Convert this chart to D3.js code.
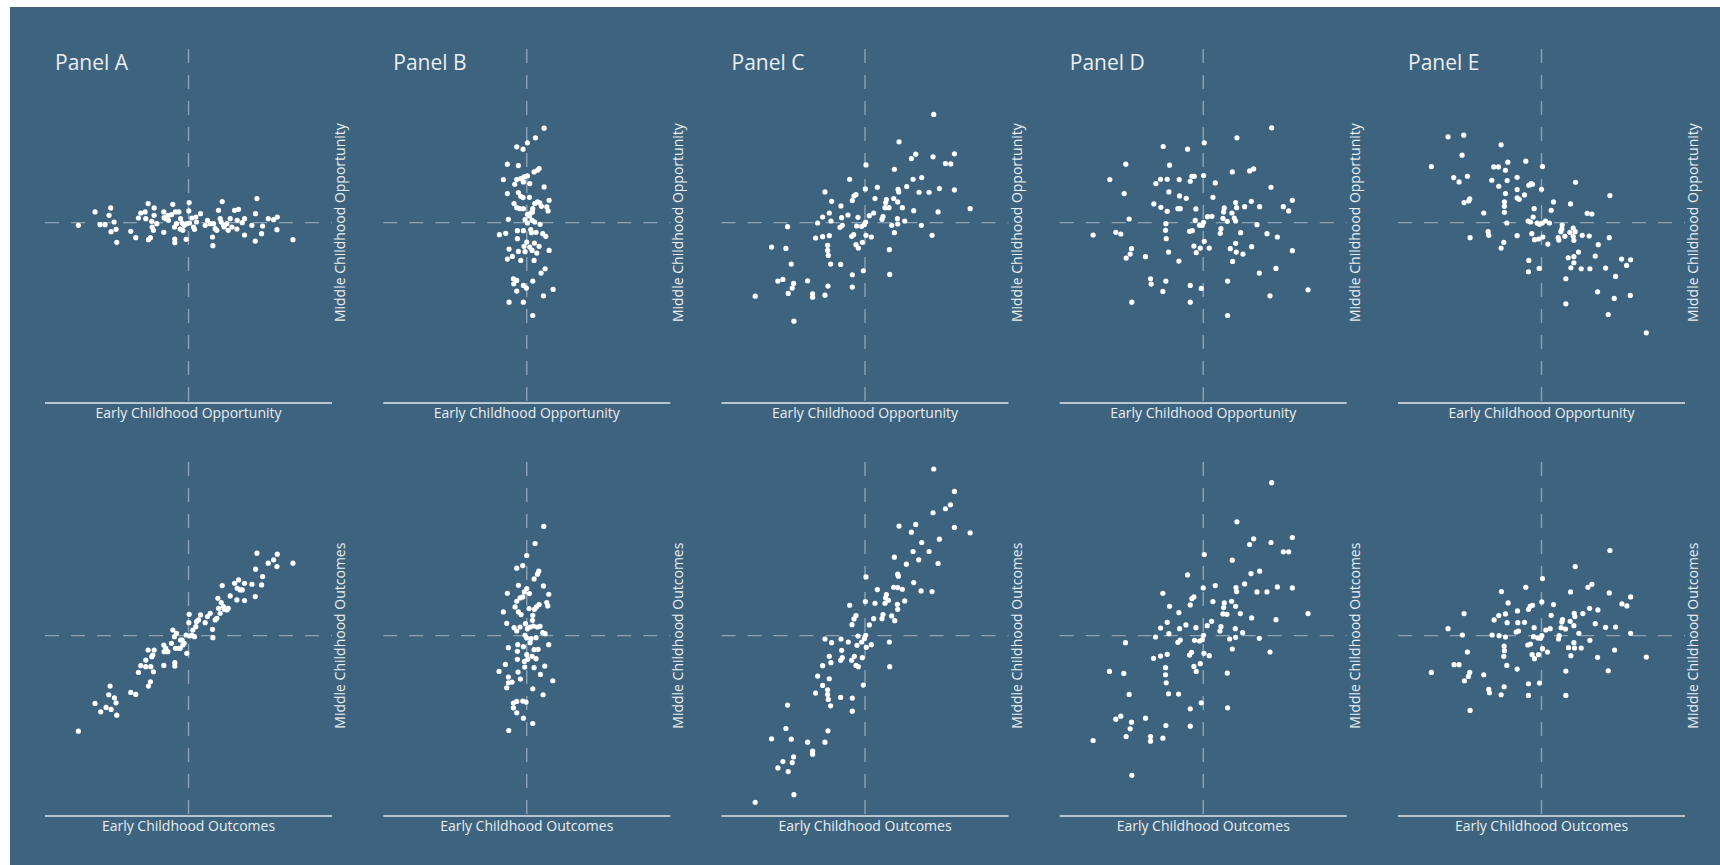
<!DOCTYPE html>
<html>
<head>
<meta charset="utf-8">
<script src="https://cdn.jsdelivr.net/npm/d3@7"></script>
<style>
  html, body { margin: 0; padding: 0; background: #fff; }
  svg { display: block; }
</style>
</head>
<body>
<div id="chart"></div>
<script>
// Early (x) vs middle (y) childhood scores.
// Units are arbitrary (no tick labels in the original); 0 = where the dashed lines cross.
const panelNames = ['Panel A', 'Panel B', 'Panel C', 'Panel D', 'Panel E'];
const rowLabels = [
  { x: 'Early Childhood Opportunity', y: 'Middle Childhood Opportunity' },
  { x: 'Early Childhood Outcomes', y: 'Middle Childhood Outcomes' }
];

const aOpportunity = [
  [-33.0,-0.8],[-28.0,3.2],[-26.5,-0.6],[-25.0,-0.6],[-23.8,2.2],[-23.3,4.4],[-22.3,0.2],[-21.7,-2.0],
  [-23.2,-2.7],[-21.5,-5.9],[-17.3,-2.6],[-15.8,-4.5],[-15.0,1.4],[-14.3,2.9],[-13.0,3.2],[-12.1,5.7],
  [-12.0,-5.1],[-11.4,-4.5],[-12.8,1.2],[-11.0,0.4],[-10.3,4.4],[-10.3,2.2],[-10.9,-1.3],[-10.5,-2.3],
  [-7.4,3.2],[-7.3,1.5],[-7.4,-2.9],[-6.8,1.2],[-6.2,2.1],[-4.7,5.5],[-5.1,2.4],[-3.9,3.2],[-2.9,3.2],
  [-3.6,-0.3],[-4.2,-1.3],[-4.1,-4.9],[-4.1,-6.0],[-2.4,1.2],[-1.9,-0.1],[-2.5,-1.9],[-1.7,-2.3],
  [-1.3,-0.8],[-0.5,-0.3],[-0.7,-5.0],[0.2,6.0],[0.1,3.5],[0.3,-0.1],[1.0,1.4],[1.8,-2.0],[2.2,1.7],
  [2.4,0.2],[3.6,2.7],[5.0,-0.8],[5.7,0.7],[6.5,-0.3],[7.2,-4.3],[7.3,-6.9],[8.0,-1.8],[8.5,-2.3],
  [9.0,3.7],[9.5,1.2],[9.8,0.2],[10.1,6.3],[10.5,-0.8],[10.7,-1.3],[11.5,-0.3],[11.9,-2.3],[12.5,1.2],
  [13.8,3.7],[15.0,4.0],[14.6,0.7],[14.5,-1.9],[16.1,0.0],[16.8,1.2],[16.8,-3.7],[19.0,-0.8],[20.1,2.7],
  [20.5,7.2],[21.9,-3.3],[22.2,-1.0],[20.0,-5.5],[23.9,1.2],[25.5,0.9],[26.6,1.7],[26.5,-2.1],[31.3,-5.1],
  [-9.5,-0.3],[-6.0,0.7],[1.5,-1.3],[7.5,-0.3],[13.0,-1.3]
];

const aOutcomes = [
  [-33.0,-28.6],[-23.5,-15.1],[-23.9,-17.7],[-22.2,-18.6],[-21.7,-20.1],[-23.2,-22.1],[-24.7,-21.5],
  [-26.3,-22.8],[-28.0,-20.3],[-21.5,-23.8],[-17.3,-17.0],[-15.8,-17.6],[-15.0,-11.0],[-14.3,-9.0],
  [-12.8,-7.3],[-12.1,-4.3],[-12.0,-15.1],[-11.4,-13.8],[-12.8,-9.3],[-11.3,-9.3],[-11.0,-6.3],
  [-10.5,-10.8],[-10.3,-4.3],[-10.7,-5.8],[-7.4,-2.8],[-7.3,-4.8],[-7.4,-8.9],[-6.8,-3.8],[-6.2,-4.8],
  [-4.7,1.7],[-5.1,-2.3],[-3.9,-3.8],[-2.9,-3.8],[-3.6,0.7],[-4.2,-0.3],[-4.1,-8.1],[-4.1,-9.1],
  [-2.4,-1.3],[-1.9,-1.3],[-2.5,-3.8],[-1.7,-2.8],[-1.3,-2.3],[-0.5,-5.3],[-0.7,0.2],[0.2,6.4],
  [0.1,3.9],[0.3,-0.1],[1.0,0.2],[1.8,-0.3],[2.2,2.7],[2.4,4.2],[1.3,1.7],[3.0,4.7],[3.6,6.2],
  [5.0,3.9],[5.7,5.7],[6.5,6.7],[7.2,1.9],[7.3,-0.6],[8.0,4.7],[8.5,5.2],[9.0,8.2],[9.5,6.7],[9.8,9.9],
  [10.1,15.0],[8.8,11.2],[10.5,8.7],[10.7,7.9],[11.5,7.7],[11.9,8.2],[12.5,11.9],[13.8,15.7],[15.0,16.7],
  [14.6,14.2],[14.5,10.7],[16.1,13.7],[16.8,15.7],[16.8,10.5],[15.5,13.7],[19.0,15.4],[20.1,19.9],
  [20.5,24.7],[21.9,15.2],[22.2,17.7],[20.0,11.7],[23.9,21.7],[25.5,22.7],[26.6,24.4],[26.5,20.7],[31.3,21.7]
];

const bOpportunity = [
  [5.2,28.3],[2.6,25.4],[0.2,23.9],[-1.1,22.0],[-3.0,22.7],[-5.8,17.5],[-2.5,17.1],[3.7,16.2],[3.2,15.7],
  [2.2,15.2],[-7.0,12.9],[-3.0,12.9],[-1.8,13.2],[-0.8,13.7],[0.2,14.0],[-1.0,12.2],[0.9,11.7],[-3.6,11.5],
  [5.2,10.7],[-5.8,8.7],[-2.5,9.0],[-1.8,7.9],[-1.1,7.5],[0.8,7.6],[-3.8,5.7],[-3.0,4.5],[-2.1,4.2],
  [-1.0,4.2],[0.2,2.5],[1.2,2.9],[1.8,4.2],[2.4,5.7],[3.2,6.2],[3.9,5.9],[4.4,4.9],[6.0,4.7],[6.7,6.7],
  [6.4,3.5],[1.7,3.2],[-5.5,1.0],[-0.5,0.9],[0.8,2.0],[1.6,0.7],[2.4,0.2],[0.2,-0.1],[4.0,-0.5],
  [-8.2,-3.6],[-6.3,-3.2],[-2.8,-2.4],[-1.0,-2.4],[1.2,-2.1],[1.4,-3.0],[2.8,-2.9],[4.8,-3.3],[5.7,-4.1],
  [-2.8,-4.8],[0.0,-5.8],[2.3,-6.1],[3.7,-7.1],[0.9,-7.3],[-0.8,-7.1],[1.6,-8.3],[3.0,-9.1],[-0.5,-8.7],
  [-2.5,-8.6],[-5.3,-7.9],[-4.3,-10.1],[-5.8,-10.9],[-1.8,-11.3],[2.2,-11.3],[6.7,-8.3],[5.5,-13.8],
  [4.3,-15.1],[-4.0,-16.8],[-3.0,-17.3],[-3.9,-18.3],[-1.0,-18.8],[-0.1,-19.6],[1.8,-17.5],[-3.0,-20.5],
  [7.9,-20.0],[5.0,-21.9],[-5.3,-23.8],[-1.0,-23.8],[1.8,-27.8]
];

const bOutcomes = [
  [5.1,32.7],[2.5,27.6],[0.0,24.0],[-1.2,21.0],[-3.0,20.2],[3.6,19.3],[3.2,18.4],[2.2,17.0],[-2.5,15.1],
  [5.0,14.9],[-5.8,12.7],[-0.7,13.1],[0.0,14.1],[0.8,12.6],[6.6,12.4],[-1.2,11.6],[-2.0,11.3],[-3.0,10.3],
  [-3.5,8.6],[-2.5,7.1],[-1.7,6.3],[0.7,8.1],[2.3,7.9],[2.9,8.6],[3.7,9.3],[6.0,9.9],[6.3,8.9],[-7.0,7.1],
  [-6.0,3.7],[1.8,6.1],[1.7,4.6],[-0.4,3.6],[-3.8,2.4],[-3.0,1.4],[-2.0,2.6],[0.2,2.1],[1.0,2.6],[2.0,2.9],
  [3.2,2.6],[4.0,2.8],[4.8,0.9],[5.5,0.6],[-0.5,0.1],[0.0,-0.7],[1.3,-0.9],[2.8,-0.6],[1.0,-2.1],
  [-5.5,-3.6],[-2.7,-2.7],[-1.0,-3.3],[6.6,-2.7],[2.2,-4.2],[3.4,-4.1],[-2.8,-4.7],[0.0,-5.7],[1.6,-6.2],
  [2.8,-6.9],[0.3,-7.1],[-0.7,-7.7],[-2.8,-7.1],[-6.4,-8.6],[-0.6,-9.4],[2.2,-9.6],[5.4,-9.1],[-8.3,-10.7],
  [-2.6,-10.9],[4.1,-11.6],[-5.5,-12.4],[-4.4,-13.9],[-5.5,-14.1],[-1.9,-13.0],[-6.0,-15.6],[7.8,-13.5],
  [1.8,-15.9],[4.9,-17.7],[-4.0,-20.2],[-3.0,-19.7],[-1.2,-19.6],[-0.2,-19.9],[-4.0,-21.6],[-3.0,-23.1],
  [-1.0,-24.7],[1.8,-26.3],[-5.4,-28.4]
];

const cOpportunity = [
  [20.6,32.4],[10.2,24.2],[13.9,19.2],[15.2,20.5],[20.4,19.7],[26.8,20.6],[24.1,17.7],[25.7,17.6],
  [0.3,17.3],[8.8,16.0],[-4.6,13.0],[14.4,13.0],[17.0,13.5],[-12.0,9.2],[-3.3,8.0],[-2.7,8.4],[0.1,10.1],
  [3.7,10.6],[9.9,10.0],[10.1,9.2],[12.5,10.8],[16.2,9.1],[19.2,9.1],[22.3,10.2],[26.8,9.8],[-10.0,6.4],
  [-3.8,6.6],[3.0,7.2],[6.4,6.9],[6.2,6.0],[8.6,7.2],[9.8,6.2],[6.0,4.5],[7.2,4.5],[11.2,4.5],[-7.2,5.0],
  [-10.7,2.9],[-12.7,1.7],[-14.2,-0.1],[-10.2,0.5],[-7.0,1.5],[-5.1,2.3],[-2.1,1.6],[1.3,2.1],[2.6,2.9],
  [5.4,1.8],[5.1,1.0],[9.7,1.2],[11.9,0.5],[14.6,3.6],[21.9,3.2],[31.5,4.2],[-23.2,-1.2],[-7.5,-1.4],
  [-6.8,-0.8],[-2.5,-1.0],[-1.0,-1.1],[-0.2,-0.6],[0.2,0.2],[8.0,-0.8],[9.8,-0.4],[16.9,-0.8],
  [-14.8,-4.6],[-12.7,-4.2],[-10.7,-3.9],[-4.0,-4.1],[-3.4,-3.6],[0.3,-3.8],[1.9,-4.3],[8.8,-3.0],
  [20.1,-3.8],[-28.0,-7.3],[-23.7,-7.7],[-11.2,-6.8],[-11.2,-8.3],[-11.0,-9.8],[-2.7,-6.6],[-2.0,-7.6],
  [-0.8,-5.9],[7.3,-8.1],[-22.1,-12.4],[-10.3,-12.4],[-7.3,-12.5],[-26.1,-17.5],[-24.6,-17.0],
  [-17.2,-17.4],[-21.4,-18.2],[-21.8,-19.6],[-11.1,-19.0],[-3.8,-15.6],[-0.5,-14.4],[7.4,-15.5],
  [-3.8,-19.3],[-32.9,-22.0],[-23.0,-21.2],[-15.7,-21.3],[-15.7,-22.3],[-12.0,-21.7],[-21.3,-29.5]
];

const cOutcomes = [
  [20.6,49.9],[26.8,43.2],[25.6,39.2],[24.1,38.0],[20.4,36.8],[10.2,32.8],[15.2,33.3],[13.9,31.0],
  [26.8,32.4],[31.5,30.8],[22.3,28.9],[17.0,27.9],[14.4,25.2],[19.2,25.2],[8.8,23.5],[12.4,21.4],
  [16.1,22.7],[21.9,21.6],[0.3,17.6],[9.8,18.4],[10.0,17.8],[14.6,15.9],[16.8,13.4],[20.1,13.2],
  [3.7,13.8],[6.4,12.3],[6.2,11.3],[7.0,10.6],[8.6,14.5],[9.8,14.4],[11.2,13.9],[11.9,10.4],[6.0,9.7],
  [9.7,9.4],[9.8,7.9],[-4.6,9.1],[0.1,10.2],[3.0,9.7],[-2.7,6.0],[-3.3,5.0],[-3.9,3.3],[1.3,3.2],
  [2.6,5.1],[5.4,6.3],[5.1,5.1],[8.0,5.9],[8.9,4.5],[-12.0,-1.0],[-10.0,-2.1],[-7.2,-1.0],[-5.0,-1.9],
  [-2.1,-0.1],[-0.2,-0.9],[0.2,0.1],[-1.0,-1.9],[-2.4,-2.9],[0.4,-3.5],[1.9,-2.7],[7.3,-1.9],[-7.0,-4.4],
  [-10.7,-6.2],[-12.7,-9.0],[-10.2,-8.1],[-7.3,-7.4],[-6.8,-6.6],[-4.0,-7.4],[-3.2,-6.2],[-0.8,-6.6],
  [-2.7,-8.9],[-2.0,-9.3],[7.4,-9.3],[-14.2,-12.1],[-10.7,-12.9],[-12.7,-14.9],[-14.8,-17.2],
  [-11.2,-16.2],[-11.2,-17.6],[-11.0,-19.1],[-10.3,-21.0],[-7.3,-18.5],[-0.5,-14.8],[-3.8,-18.7],
  [-3.8,-22.6],[-23.2,-20.8],[-23.7,-27.8],[-28.0,-30.9],[-22.1,-31.0],[-17.2,-31.9],[-12.0,-31.9],
  [-11.1,-28.5],[-15.7,-34.6],[-15.7,-35.5],[-21.4,-36.3],[-24.6,-37.7],[-21.8,-38.0],[-26.1,-39.6],
  [-23.0,-40.7],[-21.3,-47.6],[-32.9,-49.9]
];

const dOpportunity = [
  [20.5,28.4],[10.1,25.4],[0.3,23.9],[-12.0,22.8],[-4.7,22.0],[-23.2,17.5],[-10.1,17.2],[8.7,15.2],
  [13.9,15.5],[15.1,16.1],[-28.0,12.9],[-14.2,11.7],[-12.8,13.0],[-10.8,13.0],[-7.2,12.9],[-3.9,12.4],
  [-3.4,13.9],[-2.7,13.9],[0.1,14.1],[3.6,11.9],[-23.7,8.7],[-10.3,9.2],[-7.1,8.0],[-5.1,7.3],[2.9,7.6],
  [20.3,10.6],[-14.8,5.6],[-12.7,4.6],[-10.8,3.4],[-7.6,4.2],[-6.9,4.2],[-2.2,4.1],[6.3,4.4],[6.1,3.2],
  [8.6,2.9],[9.7,6.0],[10.0,4.5],[12.4,4.8],[14.4,6.4],[16.9,4.8],[24.0,4.8],[25.6,3.5],[26.7,6.7],
  [-22.2,1.1],[-11.2,-0.3],[-2.4,0.7],[-1.1,-0.8],[-0.3,-0.8],[0.1,0.1],[1.3,1.8],[2.6,1.9],[5.9,1.3],
  [7.2,0.4],[9.3,1.4],[9.7,0.5],[16.1,-0.6],[-33.0,-3.7],[-26.2,-2.9],[-24.7,-3.4],[-11.3,-2.3],
  [-11.1,-4.8],[-4.1,-2.6],[-3.3,-2.4],[5.3,-1.8],[5.1,-3.2],[11.2,-3.0],[19.1,-3.3],[22.2,-4.3],
  [-21.5,-7.8],[-21.9,-9.4],[-23.1,-10.6],[-17.3,-10.2],[-10.4,-8.8],[-7.3,-11.5],[-2.8,-7.0],[-2.1,-9.0],
  [-0.9,-7.6],[0.3,-5.6],[1.8,-7.6],[8.1,-7.8],[9.7,-6.2],[9.9,-8.8],[11.9,-9.4],[14.5,-7.2],[8.8,-11.6],
  [26.7,-8.4],[16.8,-15.1],[21.8,-13.7],[-15.8,-16.8],[-15.6,-18.4],[-11.2,-17.5],[-12.1,-20.6],
  [-3.9,-18.8],[-0.6,-19.7],[7.3,-17.5],[-21.4,-23.8],[-3.9,-23.8],[20.0,-21.9],[31.4,-20.1],[7.3,-27.8]
];

const dOutcomes = [
  [20.5,45.8],[10.1,34.1],[15.1,29.0],[13.9,27.3],[20.3,27.9],[26.7,29.4],[24.0,25.1],[25.6,25.1],
  [0.3,24.3],[8.7,22.6],[-4.7,18.2],[14.3,18.6],[16.9,19.3],[-12.1,12.7],[-3.9,9.2],[-3.4,11.1],
  [-2.8,11.6],[0.0,14.3],[3.6,15.0],[9.8,14.4],[10.0,13.2],[12.4,15.5],[16.1,13.1],[19.1,13.1],
  [22.2,14.6],[26.7,14.3],[-10.1,8.8],[-7.3,6.9],[2.9,10.2],[6.3,9.8],[6.1,8.4],[8.5,10.3],[9.7,8.8],
  [5.9,6.5],[7.1,6.4],[11.1,6.6],[14.5,5.3],[21.8,4.8],[31.4,6.6],[-10.8,4.0],[-12.8,2.3],[-14.3,-0.4],
  [-10.3,0.6],[-7.1,2.1],[-5.2,3.2],[-2.2,2.4],[1.2,3.0],[2.5,4.3],[5.3,2.7],[5.0,1.4],[9.6,2.1],
  [11.8,0.9],[-23.3,-2.1],[-7.6,-2.0],[-6.9,-1.3],[-2.6,-1.4],[-1.1,-1.6],[-0.3,-1.2],[0.1,0.1],
  [7.9,-1.0],[9.7,-0.5],[16.8,-0.8],[-14.9,-6.8],[-12.8,-6.1],[-10.8,-5.6],[-4.1,-5.8],[-3.5,-5.0],
  [0.2,-5.3],[1.8,-6.0],[8.7,-4.0],[20.0,-4.9],[-28.1,-10.7],[-23.8,-11.3],[-11.3,-9.6],[-11.3,-11.7],
  [-11.1,-14.1],[-2.8,-9.2],[-2.1,-10.7],[-0.9,-8.4],[7.2,-11.2],[-22.2,-17.6],[-10.4,-17.4],
  [-7.4,-17.5],[-26.2,-25.0],[-24.7,-24.1],[-17.3,-24.7],[-21.5,-25.9],[-21.9,-27.9],[-11.2,-26.9],
  [-3.9,-21.9],[-0.6,-20.1],[7.3,-21.6],[-3.9,-27.1],[-33.0,-31.4],[-23.1,-30.2],[-15.8,-30.2],
  [-15.8,-31.6],[-12.1,-30.7],[-21.4,-41.8]
];

const eOpportunity = [
  [-28.0,25.7],[-23.3,26.2],[-23.8,20.2],[-12.1,23.3],[-33.0,16.8],[-26.3,13.5],[-24.7,12.2],[-22.2,13.9],
  [-14.3,16.7],[-12.9,16.7],[-10.1,18.1],[-10.8,15.7],[-4.7,18.4],[0.3,16.8],[-14.9,12.7],[-12.8,10.9],
  [-10.3,12.6],[-7.3,13.6],[-3.8,11.2],[-3.1,11.7],[-2.7,11.5],[0.0,10.0],[10.2,12.1],[-23.2,6.0],
  [-21.8,6.5],[-21.5,7.1],[-10.8,8.7],[-7.3,9.9],[-7.3,7.4],[-6.7,7.0],[-5.1,8.3],[-11.1,6.2],[-11.1,4.9],
  [-11.1,3.1],[-17.3,2.9],[-2.2,4.2],[-2.5,1.7],[3.6,6.2],[2.9,3.7],[8.7,5.6],[20.5,8.1],[13.7,2.8],
  [15.1,2.6],[-10.4,-0.1],[-4.0,0.5],[-3.3,0.2],[-1.3,-0.1],[-0.6,-0.5],[0.2,-0.1],[1.2,0.5],[2.4,-0.1],
  [-16.0,-2.7],[-15.8,-3.8],[-21.4,-4.5],[-7.3,-3.9],[-2.9,-3.3],[-2.1,-5.1],[-0.9,-4.9],[0.4,-4.3],
  [1.9,-6.4],[-11.3,-5.9],[-12.1,-7.6],[6.2,-0.7],[6.1,-1.9],[5.8,-2.7],[5.0,-4.5],[5.2,-5.2],[7.0,-4.1],
  [8.5,-2.9],[9.5,-1.6],[10.1,-2.7],[9.5,-4.1],[9.7,-5.3],[12.2,-3.8],[14.3,-4.0],[17.0,-6.6],[20.3,-4.5],
  [11.1,-8.8],[8.0,-10.5],[9.7,-10.2],[16.1,-10.0],[9.7,-12.0],[8.8,-13.5],[11.9,-13.8],[14.5,-13.8],
  [19.2,-13.6],[-3.8,-11.3],[-3.9,-14.7],[-0.7,-13.7],[7.3,-16.8],[24.0,-10.9],[26.7,-11.1],[25.5,-12.8],
  [22.2,-16.1],[16.8,-20.7],[21.8,-22.7],[26.6,-21.8],[7.3,-24.3],[20.0,-27.5],[31.4,-33.0]
];

const eOutcomes = [
  [20.5,25.5],[10.1,20.7],[0.3,17.1],[-12.0,13.2],[-4.7,14.5],[13.9,14.5],[15.1,15.4],[8.7,13.1],
  [20.3,12.8],[-10.0,9.8],[-3.4,8.8],[-2.7,9.1],[0.1,10.1],[3.6,9.3],[24.1,9.5],[25.6,8.9],[26.7,11.6],
  [-23.2,6.6],[-14.2,4.7],[-12.8,6.0],[-10.8,6.5],[-7.2,7.4],[-3.9,7.9],[2.9,6.1],[9.8,6.7],[10.0,5.7],
  [12.4,6.6],[14.4,8.2],[16.9,7.7],[-28.0,2.1],[-10.3,3.9],[-7.1,3.9],[-5.1,4.0],[6.3,4.8],[6.1,4.1],
  [8.6,4.3],[9.7,3.0],[16.1,3.6],[19.2,2.5],[22.2,2.6],[-23.7,0.2],[-14.8,0.2],[-12.7,0.0],[-10.8,-0.4],
  [-7.6,1.1],[-6.9,1.4],[-2.2,2.4],[1.3,1.7],[2.6,2.1],[5.9,2.4],[7.2,2.0],[0.1,0.0],[-0.3,-0.8],
  [-1.1,-0.7],[-2.4,-0.3],[5.3,0.0],[5.1,-1.0],[11.2,0.7],[26.7,0.7],[-22.2,-4.9],[-11.2,-3.1],
  [-11.1,-4.5],[-11.3,-6.2],[-4.1,-2.8],[-3.3,-2.5],[0.3,-3.9],[1.8,-4.9],[8.1,-3.6],[9.7,-2.1],
  [9.9,-3.7],[11.9,-3.7],[14.5,-1.4],[21.9,-4.3],[31.4,-6.4],[-33.0,-11.0],[-26.2,-8.7],[-24.7,-8.7],
  [-21.5,-11.0],[-21.9,-12.2],[-23.1,-13.5],[-17.3,-11.7],[-10.4,-8.9],[-7.3,-10.0],[-2.8,-5.7],
  [-2.1,-6.9],[-0.9,-5.7],[8.8,-6.0],[16.8,-6.5],[7.3,-10.6],[20.0,-10.5],[-15.8,-16.1],[-15.6,-17.1],
  [-11.2,-15.3],[-12.1,-17.7],[-3.9,-14.4],[-0.6,-14.2],[-3.9,-17.9],[7.3,-17.9],[-21.4,-22.4]
];

const opportunityRow = [aOpportunity, bOpportunity, cOpportunity, dOpportunity, eOpportunity];
const outcomesRow = [aOutcomes, bOutcomes, cOutcomes, dOutcomes, eOutcomes];

const xDomain = [-43, 43];
const yDomain = [-54, 52];

const W = 1720, H = 865;
const bg = '#3e637e';
const textColor = '#e8eef2';
const dashColor = '#8fa2b2';

const svg = d3.select('#chart').append('svg')
  .attr('width', W)
  .attr('height', H);

svg.append('rect')
  .attr('x', 10).attr('y', 7)
  .attr('width', W - 10).attr('height', H - 7)
  .attr('fill', bg);

const plotW = 287, plotH = 354;
const colStep = 338.25;
const rowTops = [49, 462];

[opportunityRow, outcomesRow].forEach((row, r) => {
  row.forEach((pts, c) => {
    const left = 45 + c * colStep;
    const top = rowTops[r];
    const x = d3.scaleLinear().domain(xDomain).range([left, left + plotW]);
    const y = d3.scaleLinear().domain(yDomain).range([top + plotH, top]);
    const g = svg.append('g');

    // dashed cross at zero
    g.append('line')
      .attr('x1', x(0)).attr('x2', x(0))
      .attr('y1', y(yDomain[1])).attr('y2', y(yDomain[0]))
      .attr('stroke', dashColor).attr('stroke-width', 1.4)
      .attr('stroke-dasharray', '14,12');
    g.append('line')
      .attr('x1', x(xDomain[0])).attr('x2', x(xDomain[1]))
      .attr('y1', y(0)).attr('y2', y(0))
      .attr('stroke', dashColor).attr('stroke-width', 1.4)
      .attr('stroke-dasharray', '14,12');

    // x baseline
    g.append('line')
      .attr('x1', x(xDomain[0])).attr('x2', x(xDomain[1]))
      .attr('y1', y(yDomain[0])).attr('y2', y(yDomain[0]))
      .attr('stroke', '#dfe6ec').attr('stroke-width', 1.3);

    g.append('text')
      .attr('x', x(0)).attr('y', y(yDomain[0]) + 15)
      .attr('text-anchor', 'middle')
      .attr('fill', textColor)
      .style('font', '14px "Open Sans", sans-serif')
      .text(rowLabels[r].x);

    g.append('text')
      .attr('transform', `translate(${x(xDomain[1]) + 13},${y(0)}) rotate(-90)`)
      .attr('text-anchor', 'middle')
      .attr('fill', textColor)
      .style('font', '14px "Open Sans", sans-serif')
      .text(rowLabels[r].y);

    if (r === 0) {
      g.append('text')
        .attr('x', left + 10).attr('y', top + 21)
        .attr('fill', textColor)
        .style('font', '21px "Open Sans", sans-serif')
        .text(panelNames[c]);
    }

    g.append('g').selectAll('circle')
      .data(pts)
      .join('circle')
      .attr('cx', d => x(d[0]))
      .attr('cy', d => y(d[1]))
      .attr('r', 2.6)
      .attr('fill', '#ffffff');
  });
});
</script>
</body>
</html>
